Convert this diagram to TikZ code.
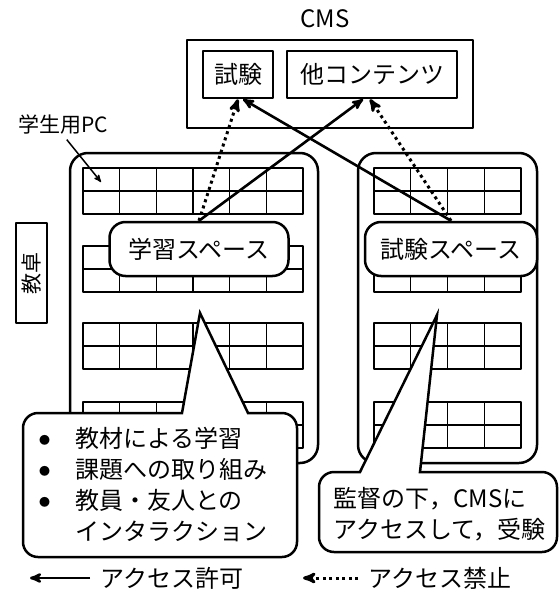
\documentclass[tikz,border=0pt]{standalone}
\usepackage{fontspec}
\setmainfont{Noto Sans CJK JP}
\usetikzlibrary{arrows,positioning}
\newcommand{\bigtext}{\fontsize{24}{31}\selectfont}
\newcommand{\midtext}{\fontsize{21}{26}\selectfont}
\newcommand{\dotitem}{\makebox[39pt][l]{\hspace{3pt}\raisebox{3pt}{\fontsize{11}{11}\selectfont ●}}}

\begin{document}
\begin{tikzpicture}[x=1pt, y=-1pt, >=stealth', line join=round]
        \tikzset{
           room/.style={
                        rectangle,
                        rounded corners=18pt,
                        draw=black,
                        line width=2.5pt,
                        fill=white
                       },
           space/.style={rectangle, rounded corners=16pt, draw=black, line width=2.5pt, fill=white, font=\bigtext},
           box/.style={rectangle, draw=black, line width=2.5pt, fill=white, font=\bigtext},
           desk/.style={draw=black, line width=1.2pt},
           bubble/.style={draw=black, line width=2.5pt, fill=white, line join=miter},
           txt/.style={inner sep=0pt, font=\bigtext},
           allow/.style={->, line width=2.6pt},
           deny/.style={->, line width=3pt, dash pattern=on 3pt off 3.5pt},
                 };
    \useasboundingbox (0,0) rectangle (558,594);
    %--------------------
        \node[box, minimum width=286pt, minimum height=88pt] (cms)      at (330,84)   {};
        \node[txt]                                           (cmslabel) at (325,19)   {CMS};
        \node[box, minimum width=70pt, minimum height=47pt]  (testbox)  at (238,74.5) {試験};
        \node[box, minimum width=170pt, minimum height=47pt] (otherbox) at (372,74.5) {他コンテンツ};

        \node[room, minimum width=248pt, minimum height=310pt] (studyroom) at (194,308)   {};
        \node[room, minimum width=179pt, minimum height=310pt] (examroom)  at (447.5,308) {};

        \foreach \t in {168,246,323,402} {
            \draw[desk] (83,\t) rectangle (303,\t+46) (83,\t+23) -- (303,\t+23);
            \foreach \c in {1,...,5} \draw[desk] (83+\c*36.67,\t) -- ++(0,46);
            \draw[desk] (374,\t) rectangle (521,\t+46) (374,\t+23) -- (521,\t+23);
            \foreach \c in {1,...,3} \draw[desk] (374+\c*36.75,\t) -- ++(0,46);
        }

        \node[space, minimum width=179pt, minimum height=54pt] (study) at (199,249) {学習スペース};
        \node[space, minimum width=172pt, minimum height=54pt] (exam)  at (451,249) {試験スペース};

        \node[txt, font=\midtext] (pclabel) at (63,125) {学生用PC};
        \coordinate (pcdesk) at (101,182);
        \node[draw=black, line width=1.2pt, rotate=90, minimum width=100pt, minimum height=31pt,
              inner sep=0pt, font=\midtext] (lectern) at (31.5,273) {教卓};
    %--------------------
        \path (study.north) edge[deny]  (testbox.south)
              (study.north) edge[allow] ([xshift=-9pt]otherbox.south)
              (exam.north)  edge[allow] ([xshift=5pt]testbox.south)
              (exam.north)  edge[deny]  ([xshift=-2pt]otherbox.south)
              (pclabel.south) edge[->, line width=1.5pt, shorten <=6pt] (pcdesk)
        ;
    %--------------------
        \draw[bubble] (248,413) [rounded corners=15pt] -- (297,413) -- (297,557) -- (23,557) -- (23,413)
                      [sharp corners] -- (182,413) -- (200,313) -- cycle;
        \draw[bubble] (420,472) [rounded corners=15pt] -- (557,472) -- (557,552) -- (319,552) -- (319,472)
                      [sharp corners] -- (360,472) -- (437,315) -- cycle;

        \node[txt, anchor=west, align=left] (studytasks) at (36,485)
            {\dotitem 教材による学習\\
             \dotitem 課題への取り組み\\
             \dotitem 教員・友人との\\
             \hspace*{39pt}インタラクション};
        \node[txt, anchor=west, align=left] (examnote) at (333,514)
            {監督の下，CMSに\\アクセスして，受験};
    %--------------------
        \node[txt, anchor=west] (allowtxt) at (100,578) {アクセス許可};
        \coordinate (allowtip) at (30,578);
        \node[txt, anchor=west] (denytxt)  at (368,578) {アクセス禁止};
        \coordinate (denytip) at (303,578);
        \path (allowtxt.west) edge[allow, shorten <=10pt] (allowtip)
              (denytxt.west)  edge[deny, shorten <=10pt]  (denytip)
        ;
    \end{tikzpicture}
\end{document}
